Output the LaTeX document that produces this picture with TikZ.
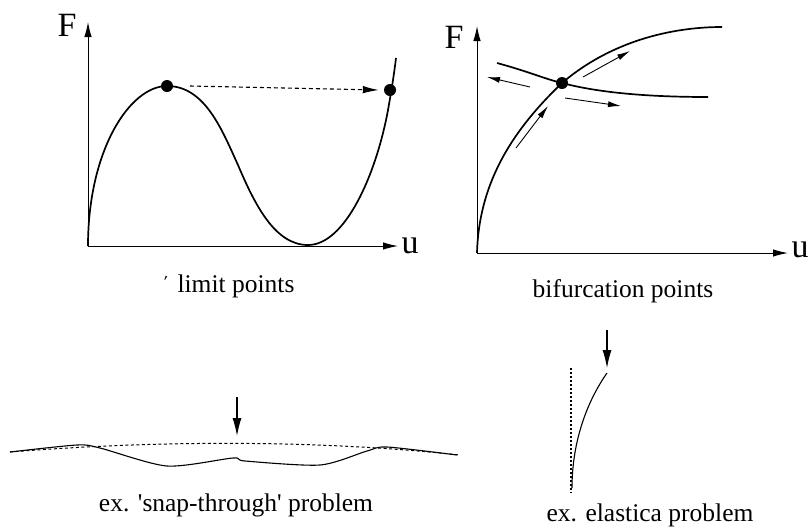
\documentclass[tikz,border=0pt]{standalone}
\usepackage{fontspec}
\setmainfont{Liberation Serif}[Ligatures=TeXOff]
\usetikzlibrary{arrows.meta}
\begin{document}
\begin{tikzpicture}[x=1pt,y=-1pt,
  axis/.style={line width=1pt,-{Latex[length=15pt,width=7.5pt]}},
  curve/.style={line width=1.7pt},
  small arrow/.style={line width=0.9pt,-{Latex[length=13pt,width=6pt]}},
  load/.style={line width=1.1pt,-{Latex[length=18pt,width=9pt]}},
  dot/.style={circle,fill=black,inner sep=0pt,minimum size=12pt},
  axlabel/.style={font=\fontsize{34}{38}\selectfont,inner sep=0pt},
  caption/.style={font=\fontsize{25.5}{30}\selectfont,inner sep=0pt}]
\useasboundingbox (0,0) rectangle (811,531);
% ---------- limit points ----------
\coordinate (O1) at (88,246);
\coordinate (Ftop1) at (88,22);
\coordinate (uend1) at (398,246);
\draw[axis] (O1) -- (Ftop1);
\draw[axis] (O1) -- (uend1);
\node[axlabel] (F1) at (67,25) {F};
\node[axlabel] (u1) at (410,246) {u};
\draw[curve] (O1) .. controls (88,150) and (130,86) .. (167,86)
  .. controls (205,86) and (222,130) .. (238,165)
  .. controls (255,205) and (275,245) .. (308,245)
  .. controls (345,245) and (376,175) .. (388,110)
  .. controls (391,93) and (394,75) .. (396,58);
\node[dot] (p1) at (167,86) {};
\node[dot] (p2) at (390,90) {};
\draw[line width=1.1pt,dash pattern=on 4pt off 3pt,-{Latex[length=16pt,width=7.5pt]}]
  (p1) ++(23,0) coordinate (d1) -- ([xshift=-5pt]p2.west);
\node[caption] (cap1) at (236,286) {limit points};
\node[font=\fontsize{18}{20}\selectfont,inner sep=0pt,rotate=-25] (tick) at (164,282) {'};
% ---------- bifurcation points ----------
\coordinate (O2) at (477,253);
\coordinate (Ftop2) at (477,26);
\coordinate (uend2) at (788,253);
\draw[axis] (O2) -- (Ftop2);
\draw[axis] (O2) -- (uend2);
\node[axlabel] (F2) at (454,37) {F};
\node[axlabel] (u2) at (800,250) {u};
\draw[curve] (O2) .. controls (479,180) and (515,128) .. (562,83)
  .. controls (610,42) and (670,27) .. (722,27);
\draw[curve] (497,63) .. controls (530,72) and (545,79) .. (562,83)
  .. controls (600,93) and (650,97) .. (708,97);
\node[dot] (b) at (562,83) {};
\coordinate (a1s) at (530,87); \coordinate (a1e) at (487,77);
\coordinate (a2s) at (565,98); \coordinate (a2e) at (621,106);
\coordinate (a3s) at (516,148); \coordinate (a3e) at (548,106);
\coordinate (a4s) at (583,77); \coordinate (a4e) at (630,51);
\draw[small arrow] (a1s) -- (a1e);
\draw[small arrow] (a2s) -- (a2e);
\draw[small arrow] (a3s) -- (a3e);
\draw[small arrow] (a4s) -- (a4e);
\node[caption] (cap2) at (623,291) {bifurcation points};
% ---------- snap-through ----------
\coordinate (s0) at (237,397);
\coordinate (s1) at (237,436);
\draw[load] (s0) -- (s1);
\draw[line width=1pt,dash pattern=on 3pt off 2.5pt]
  (10,452) .. controls (160,440) and (320,440) .. (460,455);
\draw[line width=1.1pt] plot[smooth,tension=0.45] coordinates
  {(10,452) (77,445) (100,448) (167,466) (233,458) (245,461) (320,465) (367,451) (387,447) (457,455)};
\node[caption] (cap3) at (236,505) {ex. 'snap-through' problem};
% ---------- elastica ----------
\coordinate (e0) at (607,330);
\coordinate (e1) at (607,368);
\draw[load] (e0) -- (e1);
\draw[line width=1.4pt,dash pattern=on 1.5pt off 2.5pt] (571,368) -- (571,493);
\draw[line width=1.1pt] (607,373) .. controls (588,400) and (572,440) .. (572,488);
\node[caption] (cap4) at (650,515) {ex. elastica problem};
\end{tikzpicture}
\end{document}
